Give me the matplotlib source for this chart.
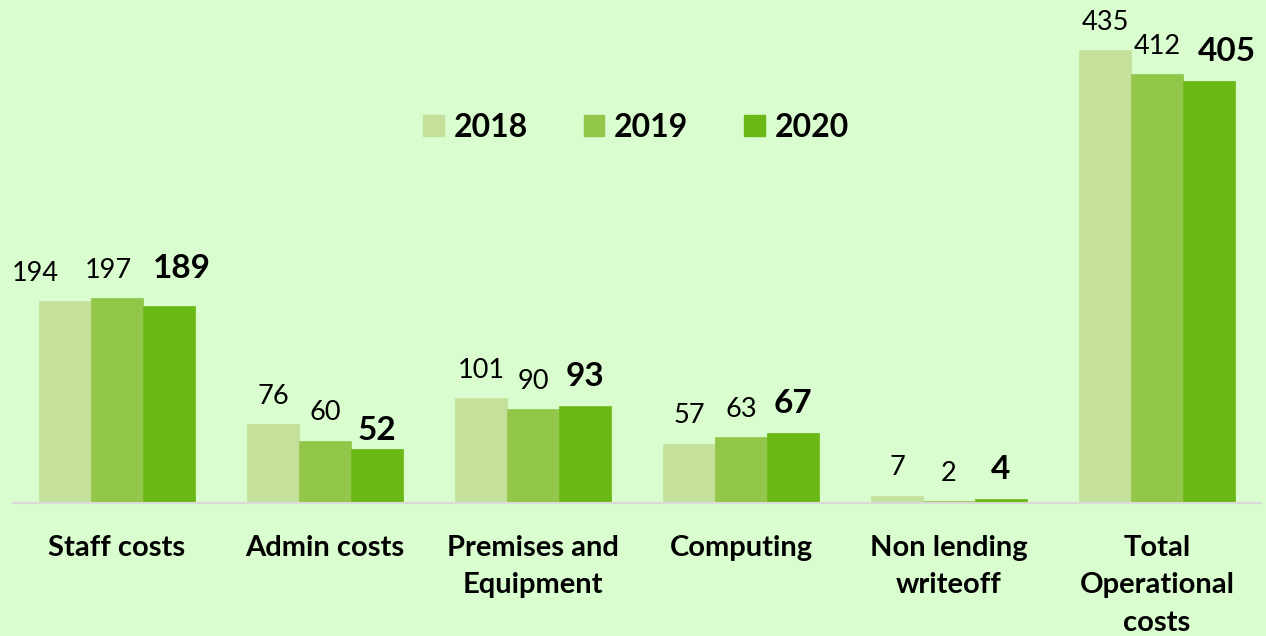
import matplotlib
matplotlib.use("Agg")
import matplotlib.pyplot as plt
import numpy as np
from matplotlib.patches import Rectangle

categories = ["Staff costs", "Admin costs", "Premises and\nEquipment", "Computing",
              "Non lending\nwriteoff", "Total\nOperational\ncosts"]
years = ["2018", "2019", "2020"]
values_2018 = [194, 76, 101, 57, 7, 435]
values_2019 = [197, 60, 90, 63, 2, 412]
values_2020 = [189, 52, 93, 67, 4, 405]

series = [values_2018, values_2019, values_2020]
colors = ["#C4E09A", "#92C649", "#6AB816"]
bg = "#DAFDD0"

# hand-placed label nudges (points) for crowded groups: (series, category) -> (dx, dy)
label_nudge = {(0, 0): (-21, 0), (1, 0): (-6, 0), (2, 0): (9, 6), (2, 5): (13, 0),
               (2, 1): (0, -8)}

plt.rcParams["font.family"] = ["Lato", "DejaVu Sans"]

W, H = 1266, 636
fig = plt.figure(figsize=(W / 100, H / 100), dpi=100, facecolor=bg)
ax = fig.add_axes([13 / W, 1 - 503 / H, 1248 / W, 503 / H])
ax.set_facecolor(bg)

x = np.arange(len(categories))
bw = 0.25
for i, (vals, col) in enumerate(zip(series, colors)):
    pos = x + (i - 1) * bw
    ax.bar(pos, vals, width=bw, color=col, edgecolor=col, linewidth=0.5, zorder=2)
    for j, (px, v) in enumerate(zip(pos, vals)):
        bold = i == 2
        dx, dy = label_nudge.get((i, j), (0, 0))
        ax.annotate(str(v), (px, v), xytext=(dx, 11 + dy), textcoords="offset points",
                    ha="center", va="bottom",
                    fontsize=24 if bold else 19.5,
                    fontweight="bold" if bold else "normal", color="black")

ax.set_xlim(-0.5, len(categories) - 0.5)
ax.set_ylim(0, 483)
ax.set_yticks([])
ax.set_xticks(x)
ax.set_xticklabels(categories, fontsize=21, fontweight="bold", linespacing=1.55)
ax.tick_params(axis="x", length=0, pad=23)
for s in ["top", "right", "left"]:
    ax.spines[s].set_visible(False)
ax.spines["bottom"].set_color("#D9D9D9")
ax.spines["bottom"].set_linewidth(1.5)

handles = [Rectangle((0, 0), 1, 1, color=c) for c in colors]
leg = fig.legend(handles, years, loc="center", bbox_to_anchor=(636 / W, 1 - 127 / H),
                 ncol=3, frameon=False, prop={"size": 23, "weight": "bold"},
                 handlelength=0.65, handleheight=0.65, handletextpad=0.3,
                 columnspacing=1.75)

fig.savefig("out.png", dpi=100, facecolor=bg)
